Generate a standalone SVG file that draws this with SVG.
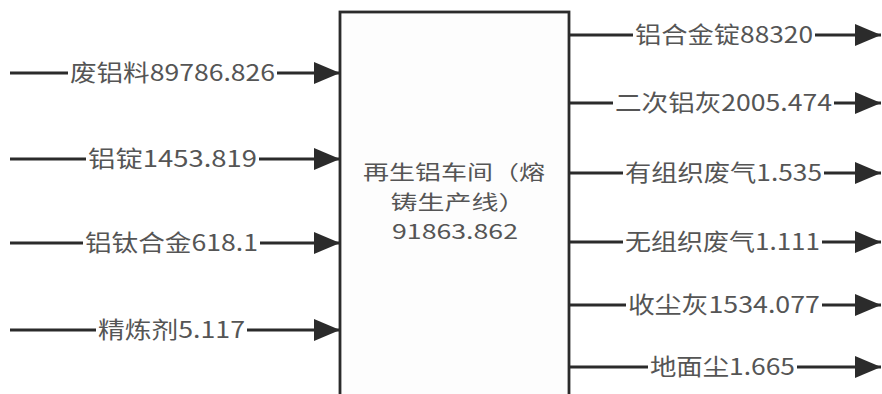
<svg xmlns="http://www.w3.org/2000/svg" width="882" height="394" viewBox="0 0 882 394">
<style>
.c{fill:none;stroke:#2b2b2b;stroke-width:2.8}
.t{font-family:"Noto Sans CJK SC","Noto Sans",sans-serif;font-size:23px;fill:#555;text-anchor:middle}
.m{font-family:"Noto Sans CJK SC","Noto Sans",sans-serif;font-size:20px;fill:#555;text-anchor:middle}
.b{fill:#fdfdfd;stroke:#2b2b2b;stroke-width:2.8}
</style>
<defs>
<marker id="ah" markerUnits="userSpaceOnUse" markerWidth="27" markerHeight="24" refX="26" refY="12" orient="auto">
<path d="M0,1 L26,12 L0,23 Z" fill="#2b2b2b"/>
</marker>
</defs>
<rect width="882" height="394" fill="#ffffff"/>
<g id="node-workshop">
<rect class="b" x="340" y="12" width="229" height="400"/>
<text class="m" x="454" y="180" textLength="182" lengthAdjust="spacingAndGlyphs">再生铝车间（熔</text>
<text class="m" x="458" y="210" textLength="135" lengthAdjust="spacingAndGlyphs">铸生产线）</text>
<text class="m" x="455" y="239" textLength="126" lengthAdjust="spacingAndGlyphs">91863.862</text>
</g>
<g id="connectors">
<path class="c" marker-end="url(#ah)" d="M10,73 H68 M277,73 H340"/>
<path class="c" marker-end="url(#ah)" d="M10,159 H86 M259,159 H340"/>
<path class="c" marker-end="url(#ah)" d="M10,243 H83 M260,243 H340"/>
<path class="c" marker-end="url(#ah)" d="M10,330 H96 M247,330 H340"/>
<path class="c" marker-end="url(#ah)" d="M569,35 H633 M815,35 H881"/>
<path class="c" marker-end="url(#ah)" d="M569,103 H613 M834,103 H881"/>
<path class="c" marker-end="url(#ah)" d="M569,173 H623 M824,173 H881"/>
<path class="c" marker-end="url(#ah)" d="M569,242 H623 M822,242 H881"/>
<path class="c" marker-end="url(#ah)" d="M569,305 H626 M822,305 H881"/>
<path class="c" marker-end="url(#ah)" d="M569,367 H648 M797,367 H881"/>
</g>
<g id="labels">
<text class="t" x="172.5" y="81" textLength="205" lengthAdjust="spacingAndGlyphs">废铝料89786.826</text>
<text class="t" x="172.5" y="167" textLength="169" lengthAdjust="spacingAndGlyphs">铝锭1453.819</text>
<text class="t" x="171.5" y="251" textLength="173" lengthAdjust="spacingAndGlyphs">铝钛合金618.1</text>
<text class="t" x="171.5" y="338" textLength="147" lengthAdjust="spacingAndGlyphs">精炼剂5.117</text>
<text class="t" x="724" y="43" textLength="178" lengthAdjust="spacingAndGlyphs">铝合金锭88320</text>
<text class="t" x="723.5" y="111" textLength="217" lengthAdjust="spacingAndGlyphs">二次铝灰2005.474</text>
<text class="t" x="723.5" y="181" textLength="197" lengthAdjust="spacingAndGlyphs">有组织废气1.535</text>
<text class="t" x="722.5" y="250" textLength="195" lengthAdjust="spacingAndGlyphs">无组织废气1.111</text>
<text class="t" x="724" y="313" textLength="192" lengthAdjust="spacingAndGlyphs">收尘灰1534.077</text>
<text class="t" x="722.5" y="375" textLength="145" lengthAdjust="spacingAndGlyphs">地面尘1.665</text>
</g>
</svg>
